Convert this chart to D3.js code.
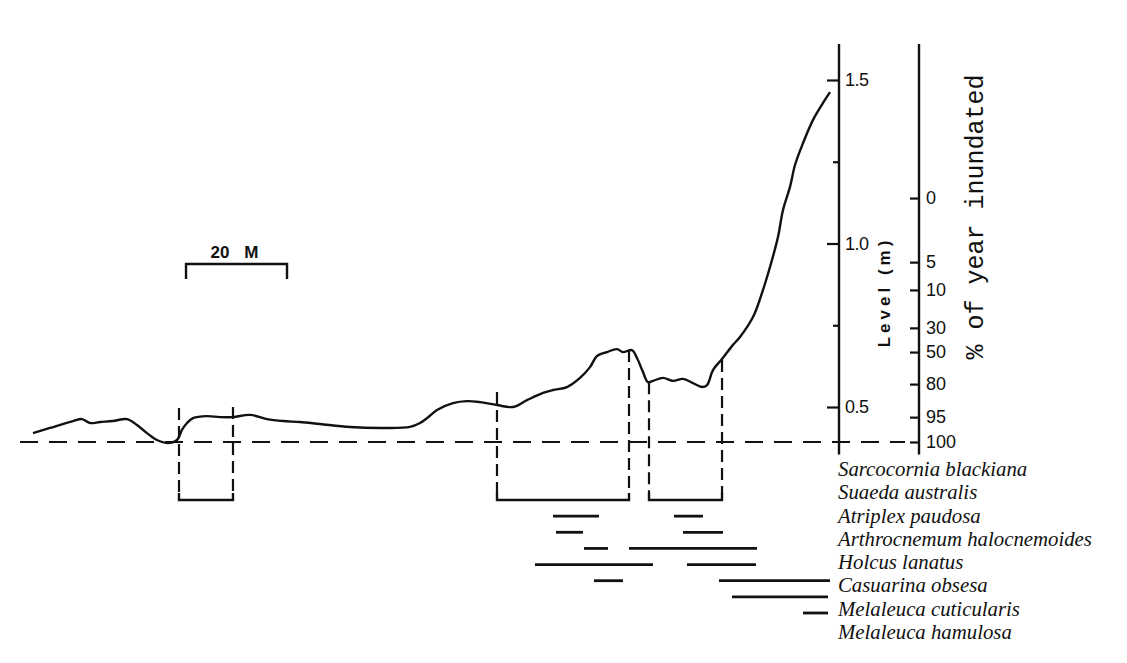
<!DOCTYPE html>
<html>
<head>
<meta charset="utf-8">
<script src="https://cdn.jsdelivr.net/npm/d3@7"></script>
<style>
  html, body { margin: 0; padding: 0; background: #ffffff; }
  svg { display: block; }
</style>
</head>
<body>
<svg id="chart" width="1127" height="663"></svg>
<script>
// ---------- DATA ----------
// Ground profile: distance along transect (m) and level (m)
const profileDistance = [0, 3.37, 7.92, 9.70, 11.29, 13.27, 15.84, 18.61, 20.59, 22.57, 24.55, 26.53, 28.51, 29.50, 30.50, 31.68, 34.46, 37.03, 39.60, 42.97, 46.34, 49.50, 52.87, 56.83, 62.77, 68.71, 74.65, 76.63, 78.02, 80.00, 83.17, 85.94, 88.51, 91.88, 95.05, 97.82, 100.99, 102.97, 105.74, 108.32, 110.30, 111.68, 113.66, 115.64, 116.83, 118.61, 119.60, 120.79, 121.78, 122.77, 124.75, 126.73, 128.71, 130.69, 132.48, 133.47, 134.65, 136.44, 138.61, 140.00, 142.57, 144.36, 145.94, 147.52, 148.51, 149.90, 150.89, 152.48, 154.46, 156.44, 157.82];
const profileLevel = [0.420, 0.436, 0.457, 0.463, 0.451, 0.454, 0.457, 0.463, 0.445, 0.420, 0.399, 0.390, 0.399, 0.430, 0.451, 0.466, 0.472, 0.469, 0.469, 0.476, 0.463, 0.457, 0.454, 0.448, 0.439, 0.436, 0.439, 0.451, 0.466, 0.491, 0.512, 0.518, 0.515, 0.506, 0.500, 0.521, 0.543, 0.552, 0.561, 0.589, 0.622, 0.656, 0.668, 0.677, 0.668, 0.674, 0.650, 0.607, 0.576, 0.580, 0.589, 0.580, 0.586, 0.573, 0.561, 0.567, 0.613, 0.647, 0.690, 0.714, 0.775, 0.849, 0.928, 1.020, 1.102, 1.173, 1.240, 1.307, 1.378, 1.430, 1.463];

const datumLevel = 0.393;

// Level axis
const levelTicks = [0.5, 0.75, 1.0, 1.25, 1.5];
const levelTickLabels = ["0.5", "", "1.0", "", "1.5"];

// % of year inundated axis
const percentLabels = ["0", "5", "10", "30", "50", "80", "95", "100"];
const percentLevels = [1.139, 0.943, 0.858, 0.742, 0.668, 0.570, 0.469, 0.393];

// Species and their distribution ranges along the transect (m)
const species = ["Sarcocornia blackiana", "Suaeda australis", "Atriplex paudosa", "Arthrocnemum halocnemoides", "Holcus lanatus", "Casuarina obsesa", "Melaleuca cuticularis", "Melaleuca hamulosa"];
const sarcocorniaRanges = [[28.91, 39.60], [91.88, 118.02], [121.98, 136.44]];
const sarcocorniaTopLevels = [[0.497, 0.500], [0.546, 0.674], [0.576, 0.644]];
const suaedaRanges = [[102.97, 112.08], [126.93, 132.67]];
const atriplexRanges = [[103.56, 108.91], [128.71, 136.63]];
const arthrocnemumRanges = [[109.11, 113.86], [118.02, 143.37]];
const holcusRanges = [[99.41, 122.77], [129.50, 143.17]];
const casuarinaRanges = [[111.09, 116.83], [135.84, 157.82]];
const cuticularisRanges = [[138.42, 157.43]];
const hamulosaRanges = [[152.48, 157.43]];

const scaleBarMetres = 20;
const scaleBarLabel = "20 M";
const levelTitle = "Level (m)";
const percentTitle = "% of year inundated";

// ---------- DRAW ----------
const svg = d3.select("#chart");
const ink = "#111";

const x = d3.scaleLinear().domain([0, 160]).range([33, 33 + 160 * 5.05]);
const y = d3.scaleLinear().domain([0.5, 1.5]).range([407, 80]);

const levelAxisX = 839;
const percentAxisX = 919;

// datum dashed line
svg.append("line")
  .attr("x1", 20).attr("x2", 905)
  .attr("y1", y(datumLevel)).attr("y2", y(datumLevel))
  .attr("stroke", ink).attr("stroke-width", 2)
  .attr("stroke-dasharray", "18,11");

// profile
const pts = profileDistance.map((d, i) => [d, profileLevel[i]]);
svg.append("path")
  .datum(pts)
  .attr("fill", "none")
  .attr("stroke", ink)
  .attr("stroke-width", 2.4)
  .attr("stroke-linejoin", "round")
  .attr("d", d3.line().x(d => x(d[0])).y(d => y(d[1])).curve(d3.curveCatmullRom.alpha(0.5)));

// species rows
const rowY = d3.scalePoint().domain(species).range([500, 613]);
const labelY = d3.scalePoint().domain(species).range([476, 639]);

// Sarcocornia brackets
sarcocorniaRanges.forEach((r, i) => {
  const tops = sarcocorniaTopLevels[i];
  const yb = rowY(species[0]);
  [0, 1].forEach(k => {
    svg.append("line")
      .attr("x1", x(r[k])).attr("x2", x(r[k]))
      .attr("y1", y(tops[k])).attr("y2", yb - 6)
      .attr("stroke", ink).attr("stroke-width", 2.2)
      .attr("stroke-dasharray", "12,6");
  });
  svg.append("path")
    .attr("fill", "none").attr("stroke", ink).attr("stroke-width", 2.4)
    .attr("d", `M${x(r[0])},${yb - 7}V${yb}H${x(r[1])}V${yb - 7}`);
});

const otherRanges = [suaedaRanges, atriplexRanges, arthrocnemumRanges, holcusRanges, casuarinaRanges, cuticularisRanges, hamulosaRanges];
otherRanges.forEach((ranges, i) => {
  const yy = rowY(species[i + 1]);
  ranges.forEach(r => {
    svg.append("line")
      .attr("x1", x(r[0])).attr("x2", x(r[1]))
      .attr("y1", yy).attr("y2", yy)
      .attr("stroke", ink).attr("stroke-width", 2.8);
  });
});

// species labels
svg.append("g").selectAll("text")
  .data(species).join("text")
  .attr("x", 838)
  .attr("y", d => labelY(d))
  .attr("font-family", "'Liberation Serif', 'Times New Roman', serif")
  .attr("font-style", "italic")
  .attr("font-size", 20.8)
  .attr("fill", ink)
  .text(d => d);

// Level axis
const levelAxis = d3.axisRight(y)
  .tickValues(levelTicks)
  .tickSizeInner(-12).tickSizeOuter(0).tickPadding(6)
  .tickFormat((d, i) => levelTickLabels[i]);
const gL = svg.append("g").attr("transform", `translate(${levelAxisX},0)`).call(levelAxis);
gL.select(".domain").remove();
gL.selectAll(".tick line").attr("stroke", ink).attr("stroke-width", 2.2)
  .attr("x2", (d, i) => levelTickLabels[i] === "" ? -6 : -12);
gL.selectAll(".tick text")
  .attr("font-family", "'Liberation Sans', Arial, sans-serif")
  .attr("font-size", 18).attr("fill", ink).attr("letter-spacing", -0.5);
svg.append("line")
  .attr("x1", levelAxisX).attr("x2", levelAxisX)
  .attr("y1", y(1.61)).attr("y2", y(0.355))
  .attr("stroke", ink).attr("stroke-width", 2.4);

// Percent axis
const pctAxis = d3.axisRight(y)
  .tickValues(percentLevels)
  .tickSizeInner(-9).tickSizeOuter(0).tickPadding(7)
  .tickFormat((d, i) => percentLabels[i]);
const gP = svg.append("g").attr("transform", `translate(${percentAxisX},0)`).call(pctAxis);
gP.select(".domain").remove();
gP.selectAll(".tick line").attr("stroke", ink).attr("stroke-width", 2.2);
gP.selectAll(".tick text")
  .attr("font-family", "'Liberation Sans', Arial, sans-serif")
  .attr("font-size", 18).attr("fill", ink);
svg.append("line")
  .attr("x1", percentAxisX).attr("x2", percentAxisX)
  .attr("y1", y(1.61)).attr("y2", y(0.355))
  .attr("stroke", ink).attr("stroke-width", 2.4);

// Axis titles
svg.append("text")
  .attr("transform", "translate(890,292) rotate(-90)")
  .attr("text-anchor", "middle")
  .attr("font-family", "'Liberation Sans', Arial, sans-serif")
  .attr("font-weight", "bold").attr("font-size", 17)
  .attr("letter-spacing", 4)
  .attr("fill", ink)
  .text(levelTitle);

svg.append("text")
  .attr("transform", "translate(983,217) rotate(-90)")
  .attr("text-anchor", "middle")
  .attr("font-family", "'Liberation Mono', 'Courier New', monospace")
  .attr("font-size", 25)
  .attr("fill", ink)
  .text(percentTitle);

// Scale bar
const sbStart = 30.3;
const sbY = 264;
svg.append("path")
  .attr("fill", "none").attr("stroke", ink).attr("stroke-width", 2.4)
  .attr("d", `M${x(sbStart)},${sbY + 15}V${sbY}H${x(sbStart + scaleBarMetres)}V${sbY + 15}`);
svg.append("text")
  .attr("x", (x(sbStart) + x(sbStart + scaleBarMetres)) / 2 - 2)
  .attr("y", sbY - 6)
  .attr("text-anchor", "middle")
  .attr("font-family", "'Liberation Sans', Arial, sans-serif")
  .attr("font-weight", "bold").attr("font-size", 17)
  .attr("word-spacing", 10)
  .attr("fill", ink)
  .text(scaleBarLabel);
</script>
</body>
</html>
